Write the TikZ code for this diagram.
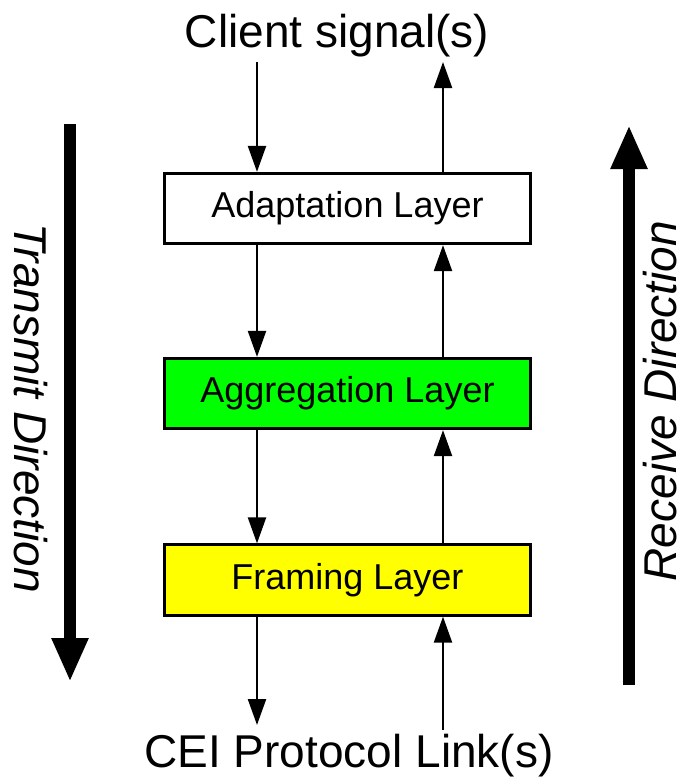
\documentclass[tikz,border=0pt]{standalone}
\usepackage{fontspec}
\setmainfont{Liberation Sans}
\usetikzlibrary{arrows.meta}
\begin{document}
\begin{tikzpicture}[x=1pt,y=-1pt,
  layer/.style={draw=black, line width=2.8pt, minimum width=366pt, minimum height=70.5pt, inner sep=0pt, font=\fontsize{36}{40}\selectfont},
  flow/.style={line width=2.3pt, -{Triangle[length=26pt,width=18pt]}},
  big/.style={line width=12pt, -{Triangle[length=44pt,width=34pt]}},
  lbl/.style={font=\fontsize{46}{50}\selectfont, inner sep=0pt},
  dirlbl/.style={font=\fontsize{46}{50}\selectfont\itshape, inner sep=0pt}]
\useasboundingbox (0,0) rectangle (683,779);
\fill[white] (0,0) rectangle (683,779);
\node[layer, fill=white] (adapt) at (347.5,208.5) {Adaptation Layer};
\node[layer, fill={rgb,255:red,0;green,255;blue,0}] (agg) at (347.5,393.5) {Aggregation Layer};
\node[layer, fill={rgb,255:red,255;green,255;blue,0}] (frame) at (347.5,580) {Framing Layer};
\node[lbl, anchor=base] (client) at (337,47) {Client signal(s)};
\node[lbl, anchor=base] (cei) at (349,767) {CEI Protocol Link(s)};
\coordinate (tl) at (257,62);
\coordinate (tr) at (443,62);
\coordinate (bl) at (257,725);
\coordinate (br) at (443,730);
% transmit side
\draw[flow] (tl) -- (tl |- adapt.north);
\draw[flow] (adapt.south -| tl) -- (agg.north -| tl);
\draw[flow] (agg.south -| tl) -- (frame.north -| tl);
\draw[flow] (frame.south -| tl) -- (bl);
% receive side
\draw[flow] (br) -- (frame.south -| br);
\draw[flow] (frame.north -| br) -- (agg.south -| br);
\draw[flow] (agg.north -| br) -- (adapt.south -| br);
\draw[flow] (adapt.north -| br) -- (tr);
% direction arrows
\coordinate (tx1) at (70,124);
\coordinate (tx2) at (70,682);
\coordinate (rx1) at (629,685);
\coordinate (rx2) at (629,125);
\draw[big] (tx1) -- (tx2);
\draw[big] (rx1) -- (rx2);
\node[dirlbl, rotate=-90] (tdir) at (31,408) {Transmit Direction};
\node[dirlbl, rotate=90] (rdir) at (660,401) {Receive Direction};
\end{tikzpicture}
\end{document}
